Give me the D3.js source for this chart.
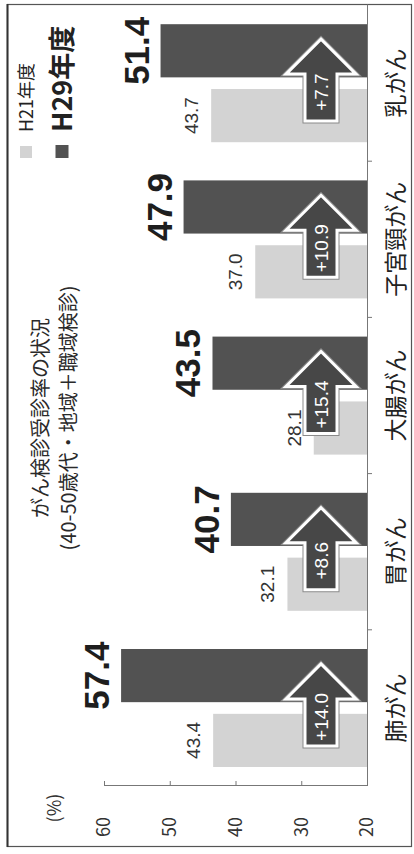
<!DOCTYPE html>
<html lang="ja">
<head>
<meta charset="utf-8">
<script src="https://cdn.jsdelivr.net/npm/d3@7"></script>
<style>
  html, body { margin: 0; padding: 0; background: #fff; }
  svg { display: block; }
  text { font-family: "Noto Sans CJK JP", "Noto Sans", sans-serif; }
  .num { font-family: "Liberation Sans", Arial, sans-serif; }
</style>
</head>
<body>
<script>
// Cancer screening uptake, ages 40-50s (community + workplace), H21 vs H29
const categories = ["肺がん", "胃がん", "大腸がん", "子宮頸がん", "乳がん"];
const seriesNames = ["H21年度", "H29年度"];
const h21Values = [43.4, 32.1, 28.1, 37.0, 43.7];
const h29Values = [57.4, 40.7, 43.5, 47.9, 51.4];
const valueTicks = [20, 30, 40, 50, 60];
const titleLines = ["がん検診受診率の状況", "(40-50歳代・地域＋職域検診)"];
const unitLabel = "(%)";

const W = 414, H = 854;
const colors = { "H21年度": "#d3d3d3", "H29年度": "#525252" };
const fmt = d3.format(".1f");

const svg = d3.select("body").append("svg")
  .attr("width", W).attr("height", H);

svg.append("rect").attr("width", W).attr("height", H).attr("fill", "#fff");

// outer frame
svg.append("rect")
  .attr("x", 7.5).attr("y", 4.5).attr("width", 404).attr("height", 842)
  .attr("fill", "none").attr("stroke", "#555").attr("stroke-width", 1.2);
svg.append("line")
  .attr("x1", 7.5).attr("x2", 7.5).attr("y1", 4).attr("y2", 847)
  .attr("stroke", "#333").attr("stroke-width", 2);

// the whole chart is laid out as a column chart and turned a quarter turn
const g = svg.append("g").attr("transform", `translate(0,${H}) rotate(-90)`);

const x0 = d3.scaleBand().domain(categories).range([68, 849]);
const x1 = d3.scaleBand().domain(seriesNames).range([19, 137]).paddingInner(0.18);
const y = d3.scaleLinear().domain([20, 60]).range([367, 104]);

const rows = categories.map((c, i) => ({
  cat: c,
  values: [
    { key: seriesNames[0], value: h21Values[i] },
    { key: seriesNames[1], value: h29Values[i] }
  ]
}));

// bars
const groups = g.selectAll("g.cat").data(rows).join("g")
  .attr("class", "cat")
  .attr("transform", d => `translate(${x0(d.cat)},0)`);

groups.selectAll("rect").data(d => d.values).join("rect")
  .attr("x", d => x1(d.key))
  .attr("width", x1.bandwidth())
  .attr("y", d => y(d.value))
  .attr("height", d => y(20) - y(d.value))
  .attr("fill", d => colors[d.key]);

// value labels
groups.selectAll("text.val").data(d => d.values).join("text")
  .attr("class", "val num")
  .attr("x", d => x1(d.key) + x1.bandwidth() / 2)
  .attr("y", d => y(d.value) - (d.key === seriesNames[1] ? 12 : 13))
  .attr("text-anchor", "middle")
  .attr("font-size", d => d.key === seriesNames[1] ? 35 : 19)
  .attr("font-weight", d => d.key === seriesNames[1] ? "bold" : "normal")
  .attr("fill", d => d.key === seriesNames[1] ? "#1e1e1e" : "#333")
  .text(d => fmt(d.value));

// increase arrows between the two bars of each category
const aV = 321, headHalf = 35, shaftHalf = 16;
groups.each(function (d) {
  const c = x0.bandwidth() / 2;
  const tip = c + 44, neck = c + 9, tail = c - 38;
  const sel = d3.select(this);
  const pts = [
    [tip, aV], [neck, aV + headHalf], [neck, aV + shaftHalf], [tail, aV + shaftHalf],
    [tail, aV - shaftHalf], [neck, aV - shaftHalf], [neck, aV - headHalf]
  ];
  sel.append("path")
    .attr("d", d3.line()(pts) + "Z")
    .attr("fill", "#474747")
    .attr("stroke", "#8a8a8a")
    .attr("stroke-width", 5)
    .attr("stroke-linejoin", "miter");
  sel.append("path")
    .attr("d", d3.line()(pts) + "Z")
    .attr("fill", "#474747")
    .attr("stroke", "#fff")
    .attr("stroke-width", 3)
    .attr("stroke-linejoin", "miter");
  const diff = d.values[1].value - d.values[0].value;
  sel.append("text")
    .attr("class", "num")
    .attr("x", c - 9)
    .attr("y", aV + 7)
    .attr("text-anchor", "middle")
    .attr("font-size", 19)
    .attr("fill", "#fff")
    .text("+" + fmt(diff));
});

// value axis
const yAxis = g.append("g")
  .attr("transform", `translate(${x0.range()[0]},0)`)
  .call(d3.axisLeft(y).tickValues(valueTicks).tickSizeInner(-5).tickSizeOuter(0).tickPadding(31));
yAxis.select(".domain").attr("stroke", "#777");
yAxis.selectAll(".tick line").attr("stroke", "#777");
yAxis.selectAll(".tick text")
  .attr("font-family", "Liberation Sans, Arial, sans-serif")
  .attr("font-size", 18).attr("fill", "#333");

g.append("text")
  .attr("x", 46).attr("y", 61)
  .attr("text-anchor", "middle")
  .attr("font-size", 18).attr("fill", "#333")
  .text(unitLabel);

// category axis with separators between categories
const xAxis = g.append("g")
  .attr("transform", `translate(0,${y(20)})`)
  .call(d3.axisBottom(x0).tickSize(0).tickPadding(21));
xAxis.select(".domain").attr("stroke", "#777");
xAxis.selectAll(".tick text")
  .attr("font-size", 23).attr("fill", "#222")
  .attr("font-family", "Noto Sans CJK JP, sans-serif");

const seps = categories.slice(1).map(c => x0(c));
g.selectAll("line.sep").data(seps).join("line")
  .attr("class", "sep")
  .attr("x1", d => d).attr("x2", d => d)
  .attr("y1", y(20)).attr("y2", y(20) + 5)
  .attr("stroke", "#777");

// title
g.selectAll("text.title").data(titleLines).join("text")
  .attr("class", "title")
  .attr("x", 436)
  .attr("y", (d, i) => 48 + i * 28)
  .attr("text-anchor", "middle")
  .attr("font-size", 20)
  .attr("fill", "#2a2a2a")
  .text(d => d);

// legend
const legend = g.append("g").attr("transform", "translate(696,0)");
const legendRows = [
  { key: seriesNames[0], v: 26, size: 18, weight: "normal", sq: 12 },
  { key: seriesNames[1], v: 62, size: 27, weight: "bold", sq: 13 }
];
legendRows.forEach(r => {
  legend.append("rect")
    .attr("x", 0).attr("y", r.v - r.sq / 2)
    .attr("width", r.sq).attr("height", r.sq)
    .attr("fill", colors[r.key]);
  legend.append("text")
    .attr("x", 26).attr("y", r.v + r.size * 0.38)
    .attr("font-size", r.size)
    .attr("font-weight", r.weight)
    .attr("fill", "#222")
    .text(r.key);
});
</script>
</body>
</html>
